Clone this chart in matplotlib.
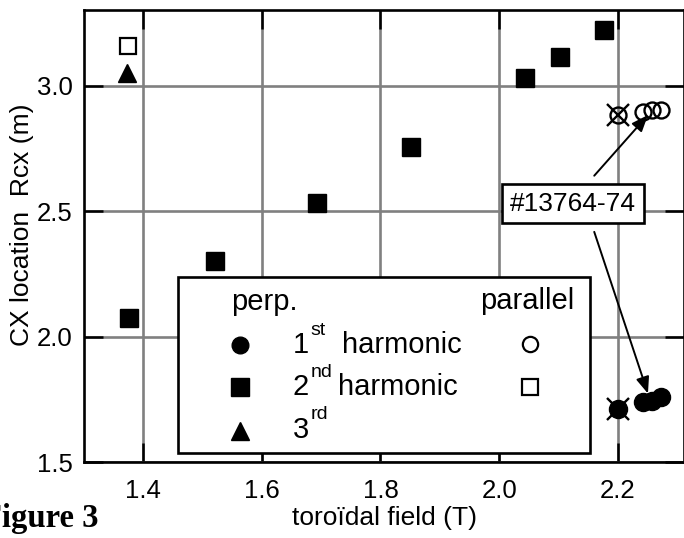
import matplotlib
matplotlib.use("Agg")
from matplotlib import pyplot as plt
from matplotlib.patches import Rectangle

plt.rcParams['font.family'] = ['Liberation Sans', 'DejaVu Sans']

# toroidal field (T) vs CX location Rcx (m)
b_perp1 = [2.200, 2.242, 2.257, 2.272]
r_perp1 = [1.713, 1.741, 1.745, 1.761]
b_perp2 = [1.376, 1.521, 1.693, 1.851, 2.043, 2.102, 2.176]
r_perp2 = [2.076, 2.300, 2.533, 2.757, 3.030, 3.116, 3.223]
b_perp3 = [1.373]
r_perp3 = [3.050]
b_par1 = [2.200, 2.242, 2.257, 2.272]
r_par1 = [2.884, 2.896, 2.904, 2.904]
b_par2 = [1.375]
r_par2 = [3.160]
# crossed-out points (shot at 2.2 T)
b_cross = [2.200, 2.200]
r_cross = [2.884, 1.713]

xticks = [1.4, 1.6, 1.8, 2.0, 2.2]
yticks = [1.5, 2.0, 2.5, 3.0]

fig = plt.figure(figsize=(6.84, 5.38), dpi=100)
ax = fig.add_axes([84/684, 76/538, 600/684, 452/538])
ax.set_xlim(1.3006, 2.3112)
ax.set_ylim(1.5, 3.303)

ax.grid(True, color='#808080', lw=1.9)
ax.set_axisbelow(True)
ax.set_xticks(xticks)
ax.set_yticks(yticks)
ax.set_xticklabels(['%.1f' % v for v in xticks])
ax.set_yticklabels(['%.1f' % v for v in yticks])
ax.tick_params(direction='in', length=14, width=1.8, labelsize=18.5,
               top=True, right=True, color='black')
ax.tick_params(axis='x', pad=12)
ax.tick_params(axis='y', pad=8)
for s in ax.spines.values():
    s.set_linewidth(1.9)

ax.plot(b_perp2, r_perp2, 's', color='black', ms=13.5, zorder=3)
ax.plot(b_perp3, r_perp3, '^', color='black', ms=13, zorder=3)
ax.plot(b_par2, r_par2, 's', mfc='white', mec='black', mew=1.6, ms=11.5, zorder=3)
ax.plot(b_perp1, r_perp1, 'o', color='black', ms=13, zorder=3)
ax.plot(b_par1, r_par1, 'o', mfc='none', mec='black', mew=1.7, ms=11.5, zorder=3)
ax.plot(b_cross, r_cross, 'x', color='black', mew=1.7, ms=16, zorder=4)

# shot number label with arrows
ax.text(2.124, 2.531, '#13764-74', fontsize=19, ha='center', va='center', zorder=5,
        bbox=dict(boxstyle='square,pad=0.3', fc='white', ec='black', lw=1.9))
arr = dict(arrowstyle='-|>,head_length=0.5,head_width=0.2', color='black', lw=1.4,
           mutation_scale=20, shrinkA=0, shrinkB=0)
ax.annotate('', xy=(2.2505, 2.884), xytext=(2.16, 2.642), arrowprops=arr, zorder=5)
ax.annotate('', xy=(2.2505, 1.773), xytext=(2.16, 2.418), arrowprops=arr, zorder=5)

# legend drawn by hand
T = ax.transAxes
ax.add_patch(Rectangle((0.157, 0.020), 0.686, 0.389, transform=T, fc='white',
                       ec='black', lw=1.9, zorder=6))
fs = 21
ax.text(0.245, 0.336, 'perp.', transform=T, fontsize=fs, va='baseline', zorder=7)
ax.text(0.818, 0.338, 'parallel', transform=T, fontsize=fs, va='baseline', ha='right', zorder=7)
ax.plot([0.26], [0.259], 'o', color='black', ms=12, transform=T, zorder=7, clip_on=False)
ax.plot([0.26], [0.165], 's', color='black', ms=13, transform=T, zorder=7, clip_on=False)
ax.plot([0.26], [0.068], '^', color='black', ms=13, transform=T, zorder=7, clip_on=False)
ax.plot([0.743], [0.262], 'o', mfc='white', mec='black', mew=1.6, ms=11, transform=T, zorder=7)
ax.plot([0.743], [0.167], 's', mfc='white', mec='black', mew=1.6, ms=11.5, transform=T, zorder=7)
rows = [('1', 'st', 0.241, 0.280, 0.43, 'harmonic'),
        ('2', 'nd', 0.148, 0.188, 0.423, 'harmonic'),
        ('3', 'rd', 0.053, 0.095, None, '')]
for num, sup, yb, ys, xh, word in rows:
    ax.text(0.348, yb, num, transform=T, fontsize=fs, va='baseline', zorder=7)
    ax.text(0.378, ys, sup, transform=T, fontsize=14, va='baseline', zorder=7)
    if xh is not None:
        ax.text(xh, yb, word, transform=T, fontsize=fs, va='baseline', zorder=7)

fig.text(384.5/684, (538-518)/538, 'toroïdal field (T)', fontsize=19, ha='center', va='center')
fig.text(22/684, (538-225)/538, 'CX location  Rcx (m)', fontsize=19, ha='center',
         va='center', rotation=90)
fig.text(98/684, 11/538, 'Figure 3', fontsize=23.5, fontweight='bold',
         family='Liberation Serif', ha='right', va='baseline')

fig.savefig('out.png', dpi=100)
